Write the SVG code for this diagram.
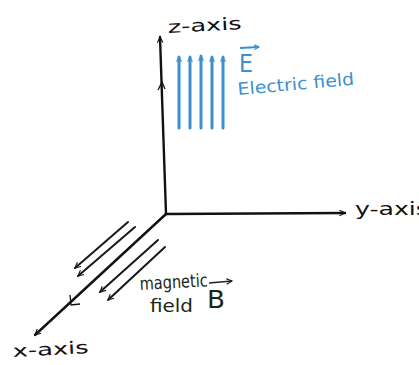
<svg xmlns="http://www.w3.org/2000/svg" width="419" height="365" viewBox="0 0 419 365">
<style>
.axis{stroke:#111;stroke-width:2.4;fill:none;stroke-linecap:round}
.bl{stroke:#151a15;stroke-width:2;fill:none;stroke-linecap:round}
.el{stroke:#3d8fcf;stroke-width:3;fill:none;stroke-linecap:round}
.t{font-family:"DejaVu Sans","Liberation Sans",sans-serif;fill:#111}
.tb{font-family:"DejaVu Sans","Liberation Sans",sans-serif;fill:#3d8fcf}
.tg{font-family:"DejaVu Sans","Liberation Sans",sans-serif;fill:#1a261a}
</style>
<defs>
<marker id="ah" viewBox="0 0 10 10" refX="9" refY="5" markerWidth="7" markerHeight="7" orient="auto" markerUnits="userSpaceOnUse">
<polyline points="1,1 9,5 1,9" fill="none" stroke="#111" stroke-width="1.6"/>
</marker>
<marker id="ahb" viewBox="0 0 10 10" refX="9" refY="5" markerWidth="7" markerHeight="7" orient="auto" markerUnits="userSpaceOnUse">
<polyline points="1,1 9,5 1,9" fill="none" stroke="#151a15" stroke-width="1.6"/>
</marker>
<marker id="ahe" viewBox="0 0 10 10" refX="9" refY="5" markerWidth="6" markerHeight="6" orient="auto" markerUnits="userSpaceOnUse">
<polyline points="1,1 9,5 1,9" fill="none" stroke="#3d8fcf" stroke-width="2"/>
</marker>
</defs>
<rect width="419" height="365" fill="#fff"/>
<g id="axes">
<line class="axis" x1="166" y1="214" x2="160" y2="37" marker-end="url(#ah)"/>
<line class="axis" x1="166" y1="214" x2="345" y2="213" marker-end="url(#ah)"/>
<line class="axis" x1="166" y1="214" x2="35" y2="335" marker-end="url(#ah)"/>
<polyline points="158,90 162,82 165,89" fill="none" stroke="#111" stroke-width="1.3"/>
<polyline points="70,295 71,305 80,304" fill="none" stroke="#111" stroke-width="1.3"/>
</g>
<g id="electric-field">
<line class="el" x1="179" y1="128" x2="179" y2="57" marker-end="url(#ahe)"/>
<line class="el" x1="190" y1="128" x2="190" y2="57" marker-end="url(#ahe)"/>
<line class="el" x1="201" y1="128" x2="201" y2="56" marker-end="url(#ahe)"/>
<line class="el" x1="212" y1="128" x2="212" y2="57" marker-end="url(#ahe)"/>
<line class="el" x1="223" y1="128" x2="223" y2="57" marker-end="url(#ahe)"/>
</g>
<g id="magnetic-field">
<line class="bl" x1="128" y1="222" x2="75" y2="268" marker-end="url(#ahb)"/>
<line class="bl" x1="135" y1="227" x2="78" y2="276" marker-end="url(#ahb)"/>
<line class="bl" x1="158" y1="240" x2="100" y2="292" marker-end="url(#ahb)"/>
<line class="bl" x1="165" y1="247" x2="108" y2="300" marker-end="url(#ahb)"/>
</g>
<g id="labels">
<text class="t" x="168" y="33" font-size="17" textLength="74" lengthAdjust="spacingAndGlyphs" transform="rotate(-3 168 33)">z-axis</text>
<text class="t" x="355" y="215" font-size="17" textLength="74" lengthAdjust="spacingAndGlyphs">y-axis</text>
<text class="t" x="13" y="357" font-size="17" textLength="76" lengthAdjust="spacingAndGlyphs" transform="rotate(-3 13 357)">x-axis</text>
<text class="tb" x="239" y="72" font-size="24" textLength="14" lengthAdjust="spacingAndGlyphs">E</text>
<line x1="240" y1="48" x2="259" y2="47" stroke="#3d8fcf" stroke-width="1.8" marker-end="url(#ahe)"/>
<text class="tb" x="238" y="95" font-size="17" textLength="117" lengthAdjust="spacingAndGlyphs" transform="rotate(-5 238 95)">Electric field</text>
<text class="tg" x="140" y="290" font-size="18" textLength="68" lengthAdjust="spacingAndGlyphs" transform="rotate(-3 140 290)">magnetic</text>
<text class="tg" x="150" y="312" font-size="18" textLength="43" lengthAdjust="spacingAndGlyphs">field</text>
<text class="tg" x="207" y="308" font-size="24" textLength="18" lengthAdjust="spacingAndGlyphs">B</text>
<line x1="209" y1="283" x2="232" y2="281" stroke="#1a261a" stroke-width="1.6" marker-end="url(#ahb)"/>
</g>
</svg>
